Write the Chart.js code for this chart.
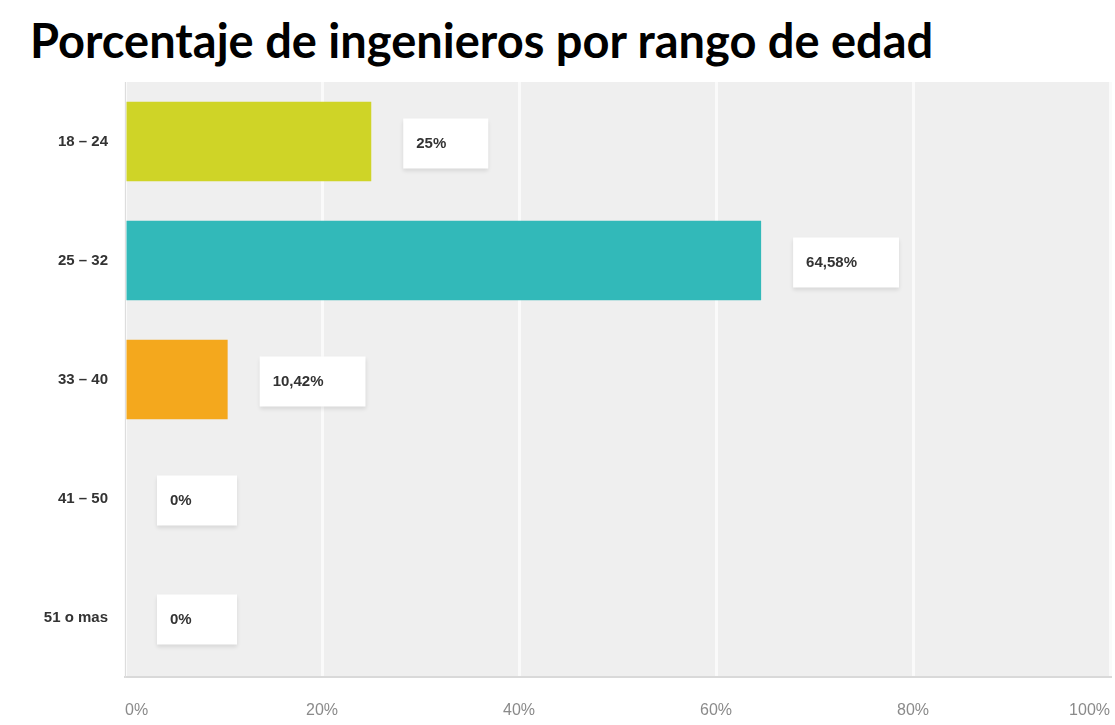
<!DOCTYPE html>
<html>
<head>
<meta charset="utf-8">
<script src="https://cdn.jsdelivr.net/npm/chart.js@4/dist/chart.umd.min.js"></script>
<style>
  html, body { margin: 0; padding: 0; background: #fff; }
  #wrap { position: relative; width: 1115px; height: 725px; }
  h1 {
    position: absolute; left: 30px; top: 12px; margin: 0;
    font-family: Lato, "Open Sans", sans-serif; font-weight: 700;
    font-size: 47px; color: #000; letter-spacing: 0;
  }
  canvas { position: absolute; left: 0; top: 0; }
</style>
</head>
<body>
<div id="wrap">
  <h1>Porcentaje de ingenieros por rango de edad</h1>
  <canvas id="barChart" width="1115" height="725"></canvas>
</div>
<script>
const rangos = ["18 – 24", "25 – 32", "33 – 40", "41 – 50", "51 o mas"];
const porcentajes = [25, 64.58, 10.42, 0, 0];
const ticksX = [0, 20, 40, 60, 80, 100];
const coloresBarra = ["#cfd427", "#32b9b9", "#f4a81d", "#cccccc", "#cccccc"];

function formatoPct(v){
    let s = Number.isInteger(v) ? String(v) : v.toFixed(2);
    return s.replace(".", ",") + "%";
}

// fondo gris del área del gráfico
const fondoArea = {
    id: "fondoArea",
    beforeDraw(chart){
        const a = chart.chartArea;
        const ctx = chart.ctx;
        ctx.save();
        ctx.fillStyle = "#efefef";
        ctx.fillRect(a.left, a.top, a.right - a.left, a.bottom - a.top);
        ctx.restore();
    }
};

// cajitas blancas con el valor
const etiquetasValor = {
    id: "etiquetasValor",
    afterDatasetsDraw(chart){
        const ctx = chart.ctx;
        const meta = chart.getDatasetMeta(0);
        const xScale = chart.scales.x;
        ctx.save();
        ctx.font = "bold 15px 'Liberation Sans', Arial, sans-serif";
        meta.data.forEach((bar, i) => {
            const txt = formatoPct(porcentajes[i]);
            const w = Math.max(ctx.measureText(txt).width + 55, 80);
            const h = 50;
            const x0 = xScale.getPixelForValue(porcentajes[i]) + 32;
            const y0 = bar.y - h / 2 + 2;
            ctx.shadowColor = "rgba(0,0,0,0.10)";
            ctx.shadowBlur = 4;
            ctx.shadowOffsetY = 2;
            ctx.fillStyle = "#ffffff";
            ctx.fillRect(x0, y0, w, h);
            ctx.shadowColor = "transparent";
            ctx.fillStyle = "#333333";
            ctx.textBaseline = "middle";
            ctx.textAlign = "left";
            ctx.fillText(txt, x0 + 13, y0 + h / 2);
        });
        ctx.restore();
    }
};

new Chart(document.getElementById("barChart"), {
    type: "bar",
    data: {
        labels: rangos,
        datasets: [{
            data: porcentajes,
            backgroundColor: coloresBarra,
            borderWidth: 0,
            barPercentage: 0.67,
            categoryPercentage: 1
        }]
    },
    options: {
        indexAxis: "y",
        responsive: false,
        animation: false,
        layout: { padding: { top: 82, right: 5, bottom: 0, left: 0 } },
        plugins: {
            legend: { display: false },
            tooltip: { enabled: false }
        },
        scales: {
            x: {
                min: 0,
                max: 100,
                afterBuildTicks(scale){
                    scale.ticks = ticksX.map(v => ({ value: v }));
                },
                afterFit(scale){
                    scale.height = 48;
                    scale.paddingLeft = 0;
                    scale.paddingRight = 0;
                },
                grid: { color: "#fafafa", lineWidth: 3, drawTicks: false },
                border: { display: true, color: "#d9d9d9", width: 2 },
                ticks: {
                    align: "inner",
                    padding: 24,
                    color: "#8a8a8a",
                    font: { family: "'Liberation Sans', Arial, sans-serif", size: 16 },
                    callback: v => v + "%"
                }
            },
            y: {
                afterFit(scale){ scale.width = 125; },
                grid: { display: false, drawTicks: false },
                border: { display: true, color: "#dddddd", width: 1 },
                ticks: {
                    padding: 17,
                    color: "#333333",
                    font: { family: "'Liberation Sans', Arial, sans-serif", size: 15, weight: "bold" }
                }
            }
        }
    },
    plugins: [fondoArea, etiquetasValor]
});
</script>
</body>
</html>
